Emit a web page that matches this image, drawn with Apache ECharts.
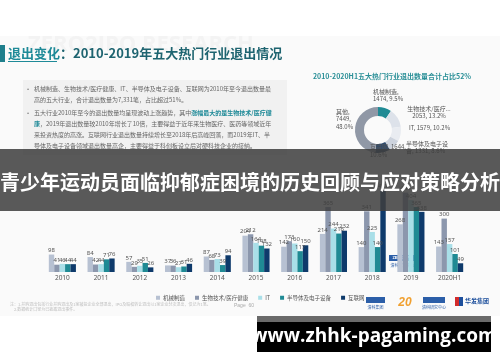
<!DOCTYPE html>
<html><head><meta charset="utf-8">
<script src="https://cdn.jsdelivr.net/npm/echarts@6/dist/echarts.min.js"></script>
<style>html,body{margin:0;padding:0;background:#fff}#c{width:500px;height:362px}</style>
</head><body><div id="c"></div>
<script>
// ---- data ----
const years = ['2010','2011','2012','2013','2014','2015','2016','2017','2018','2019','2020H1'];
const seriesNames = ['机械制造','生物技术/医疗健康','IT','半导体及电子设备','互联网'];
const jixie      = [98, 84, 57, 37, 87, 204, 142, 214, 140, 268, 143];
const shengwu    = [41, 42, 29, 36, 68, 212, 173, 365, 341, 446, 300];
const itData     = [46, 44, 35, 27, 73, 164, 160, 244, 225, 404, 157];
const bandaoti   = [44, 71, 51, 31, 39, 148, 117, 216, 140, 365, 101];
const hulianwang = [44, 76, 26, 46, 94, 132, 150, 232, 457, 338, 49];
const pieNames  = ['机械制造','生物技术/医疗健康','IT','半导体及电子设备','互联网','其他'];
const pieValues = [1474, 2053, 1579, 1331, 1644, 7449];

const barColors = ['#b7c1d2','#8c97ad','#a9dfe8','#1f8a94','#0e3a6b'];
const pieColors = ['#1f8a94','#dde2ea','#e9ecf1','#cdd3dd','#2e4a6c','#9098a6'];
const F = '"Noto Sans CJK SC", "Noto Sans", sans-serif';

const chart = echarts.init(document.getElementById('c'), null, {renderer:'canvas'});
const barSeriesData = [jixie, shengwu, itData, bandaoti, hulianwang];
const pieTotal = pieValues.reduce((a,b) => a + b, 0);

const pieLabelPos = [[373,95,'left'],[429,112,'center'],[409,128,'left'],[406,147,'left'],[370,150.5,'left'],[336,119,'left']];
function pieFmt(p){
  const v = p.value, pc = (v / pieTotal * 100).toFixed(1) + '%';
  switch(p.dataIndex){
    case 0: return p.name + ',\n' + v + ', ' + pc;
    case 1: return p.name + ',\n' + v + ', ' + pc;
    case 2: return p.name + ', ' + v + ', ' + pc;
    case 3: return '半导体及电子设\n备, ' + v + ', ' + pc;
    case 4: return p.name + ', ' + v + ',\n' + pc;
    default: return p.name + ',\n' + v + ',\n' + pc;
  }
}

const body = [
  ['•', '机械制造、生物技术/医疗健康、IT、半导体及电子设备、互联网为2010年至今退出数量最', 89],
  ['', '高的五大行业，合计退出数量为7,331笔，占比超过51%。', 100],
  ['•', '五大行业2010年至今的退出数量均呈现波动上涨趋势，其中{h|涨幅最大的是生物技术/医疗健}', 113],
  ['', '{h|康}，2019年退出数量较2010年增长了10倍，主要得益于近年来生物医疗、医药等领域近年', 124],
  ['', '来投资热度的高涨。互联网行业退出数量持续增长至2018年后高峰回落，而2019年IT、半', 135],
  ['', '导体及电子设备领域退出数量高企，主要得益于科创板设立后对硬科技企业的接纳。', 146]
];
const graphics = [
  {type:'rect', shape:{x:0,y:36,width:500,height:280}, style:{fill:'#fafafa'}, z:-10},
  {type:'text', x:28, y:45, style:{text:'ZERO2IPO RESEARCH', font:'bold 22px "Open Sans", sans-serif', fill:'#f3f3f3', verticalAlign:'middle'}, z:-5},
  {type:'rect', shape:{x:0,y:45,width:5,height:17}, style:{fill:'#1f7f8c'}},
  {type:'text', x:8, y:53, style:{text:'{u|退出变化}：2010-2019年五大热门行业退出情况', font:'bold 13px ' + F, fill:'#1e6470', verticalAlign:'middle',
    rich:{u:{fontSize:13, fontWeight:'bold', fill:'#1f8a98', fontFamily:F}}}},
  {type:'line', shape:{x1:8,y1:61.5,x2:57,y2:61.5}, style:{stroke:'#1f8a98', lineWidth:1}},
  {type:'rect', shape:{x:23,y:80,width:264,height:75}, style:{fill:'#f1f1f1'}},
  {type:'text', x:392, y:76, style:{text:'2010-2020H1五大热门行业退出数量合计占比52%', font:'bold 7px ' + F, fill:'#2a8f97', align:'center', verticalAlign:'middle'}},
  // small logo in chart
  {type:'rect', shape:{x:389,y:255,width:27,height:6}, style:{fill:'#2b5ea8'}},
  {type:'text', x:402.5, y:258, style:{text:'ZERO2IPO', font:'bold 4px sans-serif', fill:'#fff', align:'center', verticalAlign:'middle'}},
  {type:'text', x:402.5, y:265, style:{text:'清科研究中心', font:'4px ' + F, fill:'#2b5ea8', align:'center', verticalAlign:'middle'}},
  // footer
  {type:'text', x:10, y:304, style:{text:'注：1.并购退出包括行业并购退出及1家被投企业全部退出，IPO及股权转让退出以1家企业分次退出，仅记为1笔。', font:'4px ' + F, fill:'#bdbdbd', verticalAlign:'middle'}},
  {type:'text', x:14, y:309, style:{text:'2.数据统计口径为已披露退出事件。', font:'4px ' + F, fill:'#bdbdbd', verticalAlign:'middle'}},
  {type:'text', x:234, y:306, style:{text:'Page  60', font:'5px sans-serif', fill:'#aaaaaa', verticalAlign:'middle'}},
  {type:'rect', shape:{x:366,y:297,width:19,height:6}, style:{fill:'#2b5ea8'}},
  {type:'text', x:375.5, y:307, style:{text:'清科集团', font:'4px ' + F, fill:'#2b5ea8', align:'center', verticalAlign:'middle'}},
  {type:'text', x:405, y:303, style:{text:'20', font:'italic bold 12px sans-serif', fill:'#f0a030', align:'center', verticalAlign:'middle'}},
  {type:'rect', shape:{x:423,y:297,width:22,height:6}, style:{fill:'#2b5ea8'}},
  {type:'text', x:434, y:307, style:{text:'清科研究中心', font:'4px ' + F, fill:'#2b5ea8', align:'center', verticalAlign:'middle'}},
  {type:'rect', shape:{x:455,y:297,width:4,height:9}, style:{fill:'#d22b2b'}},
  {type:'rect', shape:{x:459,y:297,width:4,height:9}, style:{fill:'#1d4f9c'}},
  {type:'text', x:465, y:301, style:{text:'华发集团', font:'bold 6px ' + F, fill:'#1d4f9c', verticalAlign:'middle'}},
  // overlay band
  {type:'rect', shape:{x:0,y:149,width:500,height:62}, style:{fill:'rgba(62,62,62,0.86)'}, z:100},
  {type:'text', x:250, y:182, style:{text:'青少年运动员面临抑郁症困境的历史回顾与应对策略分析', font:'bold 20px ' + F, fill:'#ffffff', align:'center', verticalAlign:'middle'}, z:101},
  // url watermark
  {type:'rect', shape:{x:257,y:316,width:234,height:6}, style:{fill:'#6a6a6a'}, z:100},
  {type:'rect', shape:{x:257,y:322,width:234,height:30}, style:{fill:'#000'}, z:100},
  {type:'text', x:374, y:337, style:{text:'www.zhhk-pagaming.com', font:'bold 19px "Open Sans", sans-serif', fill:'#ffffff', align:'center', verticalAlign:'middle'}, z:101}
];
body.forEach(b => {
  if (b[0]) graphics.push({type:'text', x:27, y:b[2], style:{text:b[0], font:'6px sans-serif', fill:'#888', verticalAlign:'middle'}});
  graphics.push({type:'text', x:34, y:b[2], style:{text:b[1], font:'6px ' + F, fill:'#666', verticalAlign:'middle',
    rich:{h:{fontSize:6, fontWeight:'bold', fill:'#1f8a98', fontFamily:F}}}});
});

const option = {
  backgroundColor:'#ffffff',
  animation:false,
  textStyle:{fontFamily:F},
  graphic:{elements:graphics},
  legend:{
    data:seriesNames, left:151, top:290, icon:'rect', itemWidth:4, itemHeight:4, itemGap:10, itemStyle:{},
    textStyle:{fontSize:5.5, color:'#555', fontFamily:F, padding:[0,0,0,-2]}
  },
  grid:{left:43, right:31, top:183, bottom:90},
  xAxis:{type:'category', data:years, axisLine:{show:false}, axisTick:{show:false},
    axisLabel:{fontSize:6.5, color:'#555', margin:3, fontFamily:'"Noto Sans", sans-serif'}},
  yAxis:{type:'value', min:0, max:500, show:false, splitLine:{show:false}},
  series: barSeriesData.map((d,i) => ({
    type:'bar', name:seriesNames[i], data:d, barGap:'0%', barCategoryGap:'30%',
    itemStyle:{color:barColors[i]},
    label:{show:true, position:'top', distance:1, fontSize:6, color:'#555', fontFamily:'"Noto Sans", sans-serif'}
  })).concat([{
    type:'pie', center:[378,130], radius:[14,23], startAngle:90, clockwise:true,
    silent:true,
    data: pieNames.map((n,i) => ({name:n, value:pieValues[i], itemStyle:{color:pieColors[i]}})),
    label:{show:true, formatter:pieFmt, fontSize:6, lineHeight:7.5, color:'#555', fontFamily:F},
    labelLine:{show:false},
    labelLayout: function(p){ const q = pieLabelPos[p.dataIndex]; return {x:q[0], y:q[1], align:q[2], verticalAlign:'middle'}; }
  }])
};
chart.setOption(option);
</script></body></html>
